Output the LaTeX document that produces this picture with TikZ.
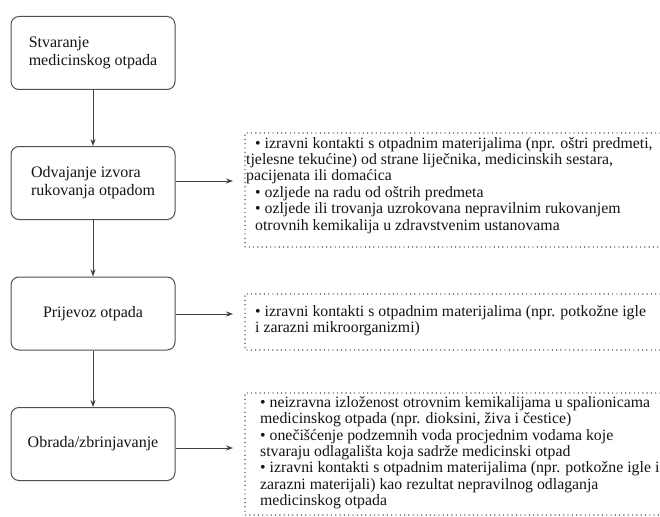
\documentclass[tikz,border=0pt]{standalone}
\usepackage{fontspec}
\setmainfont{Liberation Serif}
\usetikzlibrary{arrows.meta}
\definecolor{boxgray}{HTML}{505050}
\definecolor{arrgray}{HTML}{404040}
\definecolor{txtcol}{HTML}{141414}
\begin{document}
\begin{tikzpicture}[x=1pt,y=1pt,
  stepbox/.style={draw=boxgray, line width=1pt, rounded corners=8pt, fill=white,
    minimum width=164pt, minimum height=73pt, inner sep=0pt, align=left,
    font=\fontsize{16}{18}\selectfont, text=txtcol},
  flow/.style={draw=arrgray, line width=0.9pt, -{Stealth[length=7pt,width=5pt]}},
  dotbox/.style={draw=black!85, line width=1.4pt, line cap=round, dash pattern=on 0pt off 4.3pt},
  txt/.style={anchor=north west, inner sep=0pt, align=left,
    font=\fontsize{15.8}{16.4}\selectfont, text=txtcol}]
\useasboundingbox (0,0) rectangle (660,-516);
\fill[white] (0,0) rectangle (660,-516);

\node[stepbox] (s1) at (93,-53) {Stvaranje\\medicinskog otpada};
\node[stepbox] (s2) at (93,-183) {Odvajanje izvora\\rukovanja otpadom};
\node[stepbox] (s3) at (93,-313.5) {Prijevoz otpada};
\node[stepbox] (s4) at (93,-444) {Obrada/zbrinjavanje};

\draw[flow] (s1) -- (s2);
\draw[flow] (s2) -- (s3);
\draw[flow] (s3) -- (s4);

\coordinate (e2) at (233,-181);
\coordinate (e3) at (233,-314);
\coordinate (e4) at (233,-448);
\draw[flow] (s2.east |- e2) -- (e2);
\draw[flow] (s3.east |- e3) -- (e3);
\draw[flow] (s4.east |- e4) -- (e4);

\draw[dotbox] (660,-133) -- (245,-133) -- (245,-247) -- (660,-247);
\draw[dotbox] (660,-294) -- (245,-294) -- (245,-350) -- (660,-350);
\draw[dotbox] (660,-393) -- (245,-393) -- (245,-515) -- (660,-515);

\node[txt] (ta) at (246,-137) {\hspace*{9pt}• izravni kontakti s otpadnim materijalima (npr. oštri predmeti,\\
tjelesne tekućine) od strane liječnika, medicinskih sestara,\\
pacijenata ili domaćica\\
\hspace*{9pt}• ozljede na radu od oštrih predmeta\\
\hspace*{9pt}• ozljede ili trovanja uzrokovana nepravilnim rukovanjem\\
\hspace*{9pt}otrovnih kemikalija u zdravstvenim ustanovama};

\node[txt] (tb) at (255,-305) {• izravni kontakti s otpadnim materijalima (npr. potkožne igle\\
i zarazni mikroorganizmi)};

\node[txt] (tc) at (260,-396) {• neizravna izloženost otrovnim kemikalijama u spalionicama\\
medicinskog otpada (npr. dioksini, živa i čestice)\\
• onečišćenje podzemnih voda procjednim vodama koje\\
stvaraju odlagališta koja sadrže medicinski otpad\\
• izravni kontakti s otpadnim materijalima (npr. potkožne igle i\\
zarazni materijali) kao rezultat nepravilnog odlaganja\\
medicinskog otpada};
\end{tikzpicture}
\end{document}
